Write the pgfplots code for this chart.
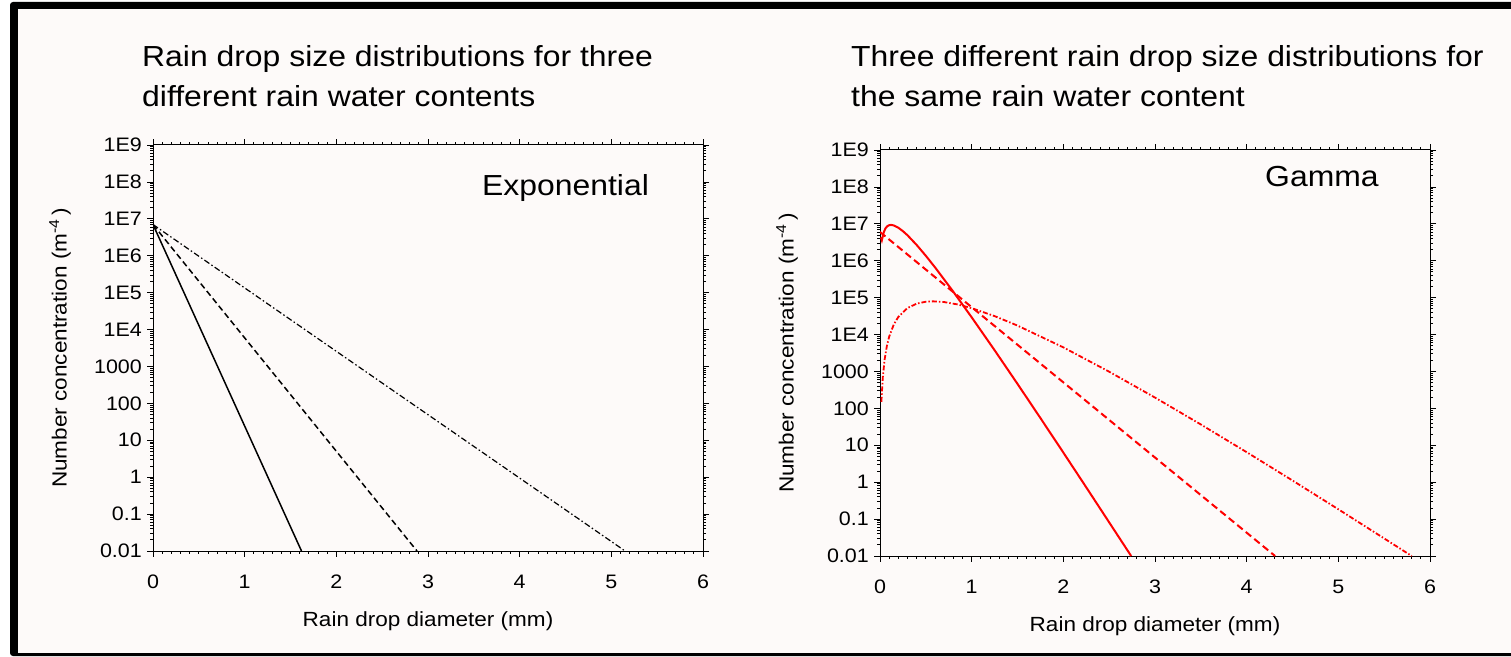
\documentclass[border=0pt]{standalone}
\usepackage{fontspec}
\setmainfont[FakeStretch=1.1]{Liberation Sans}
\usepackage{pgfplots}
\pgfplotsset{compat=1.18}
\definecolor{bg}{RGB}{253,250,249}
\definecolor{myred}{RGB}{255,0,0}

\pgfplotsset{every axis/.append style={
  scale only axis, width=550pt, height=406pt, anchor=south west,
  xmin=0, xmax=6, ymin=1e-2, ymax=1e9,
  xtick={0,1,2,3,4,5,6}, minor x tick num=9,
  ytick={1e-2,1e-1,1,10,100,1000,1e4,1e5,1e6,1e7,1e8,1e9},
  yticklabels={0.01,0.1,1,10,100,1000,1E4,1E5,1E6,1E7,1E8,1E9},
  minor ytick={2e-2,3e-2,4e-2,5e-2,6e-2,7e-2,8e-2,9e-2,
    0.2,0.3,0.4,0.5,0.6,0.7,0.8,0.9,
    2,3,4,5,6,7,8,9,
    20,30,40,50,60,70,80,90,
    200,300,400,500,600,700,800,900,
    2000,3000,4000,5000,6000,7000,8000,9000,
    2e4,3e4,4e4,5e4,6e4,7e4,8e4,9e4,
    2e5,3e5,4e5,5e5,6e5,7e5,8e5,9e5,
    2e6,3e6,4e6,5e6,6e6,7e6,8e6,9e6,
    2e7,3e7,4e7,5e7,6e7,7e7,8e7,9e7,
    2e8,3e8,4e8,5e8,6e8,7e8,8e8,9e8},
  tick align=outside, tick pos=both, ticklabel pos=left,
  major tick length=6pt, minor tick length=3pt,
  every tick/.style={black, line width=0.8pt},
  axis line style={line width=1pt},
  /pgf/number format/assume math mode=true,
  tick label style={font=\fontsize{19.5}{21}\selectfont},
  xticklabel style={anchor=north, inner sep=0pt, yshift=-18pt},
  yticklabel style={anchor=east, inner sep=0pt, xshift=-5pt},
  label style={font=\fontsize{20.5}{24}\selectfont},
  xlabel={Rain drop diameter (mm)},
  ylabel={Number concentration (m\textsuperscript{-4}\,)},
  xlabel style={at={(axis description cs:0.5,-0.1864)}, anchor=base},
  ylabel style={at={(axis description cs:-0.157,0.5)}, anchor=base},
}}

\begin{document}
\begin{tikzpicture}[x=1pt,y=1pt]
\path[use as bounding box] (0,0) rectangle (1511,656);
\fill[white] (0,0) rectangle (1511,656);
\fill[black, rounded corners=3pt] (10,0) rectangle (1520,654);
\fill[bg] (18,3) rectangle (1511,647);

\node[anchor=base west, inner sep=0pt] at (142,589.3) {\fontsize{29}{35}\selectfont Rain drop size distributions for three};
\node[anchor=base west, inner sep=0pt] at (142,549.3) {\fontsize{29}{35}\selectfont different rain water contents};
\node[anchor=base west, inner sep=0pt] at (851,589.3) {\fontsize{29}{35}\selectfont Three different rain drop size distributions for};
\node[anchor=base west, inner sep=0pt] at (851,549.3) {\fontsize{29}{35}\selectfont the same rain water content};

\begin{semilogyaxis}[at={(153pt,105pt)}]
\addplot[black, line width=1.5pt] coordinates {(0,7e6) (1.62,0.01)};
\addplot[black, line width=1.5pt, dash pattern=on 6pt off 3.5pt] coordinates {(0,7e6) (2.88,0.01)};
\addplot[black, line width=1.2pt, dash pattern=on 6pt off 2.5pt on 1.5pt off 2.5pt] coordinates {(0,7e6) (5.15,0.01)};
\end{semilogyaxis}

\begin{semilogyaxis}[at={(880pt,100pt)}]
\addplot[myred, line width=2pt] coordinates {
(0.01,4.3e6) (0.02,3.6e6) (0.04,5.82e6) (0.06,7.57e6) (0.08,8.63e6) (0.1,9.18e6) (0.12,9.33e6)
(0.15,9.06e6) (0.2,7.83e6) (0.25,6.32e6) (0.3,4.89e6) (0.4,2.67e6) (0.5,1.36e6)
(0.6,6.62e5) (0.8,1.44e5) (1.0,2.93e4) (1.25,3760) (1.5,460) (1.75,54.6)
(2.0,6.34) (2.25,0.724) (2.5,0.0815) (2.74,0.01)};
\addplot[myred, line width=2pt, dash pattern=on 7pt off 4pt] coordinates {(0,6e6) (4.31,0.01)};
\addplot[myred, line width=1.8pt, dash pattern=on 5pt off 2pt on 1.5pt off 2pt] coordinates {
(0.015,150) (0.03,673) (0.05,2084) (0.075,4920) (0.1,8770) (0.15,1.87e4)
(0.2,3.01e4) (0.3,5.24e4) (0.4,6.87e4) (0.5,7.76e4) (0.58,7.94e4) (0.7,7.59e4)
(0.85,6.52e4) (1.0,5.19e4) (1.25,3.16e4) (1.5,1.75e4) (2.0,4490) (2.5,984)
(3.0,196) (3.5,36.6) (4.0,6.50) (4.5,1.11) (5.0,0.1845) (5.5,0.0299) (5.8,0.01)};
\end{semilogyaxis}

\node[anchor=base west, inner sep=0pt] at (482,460) {\fontsize{29}{35}\selectfont Exponential};
\node[anchor=base west, inner sep=0pt] at (1265,469.3) {\fontsize{29}{35}\selectfont Gamma};
\end{tikzpicture}
\end{document}
